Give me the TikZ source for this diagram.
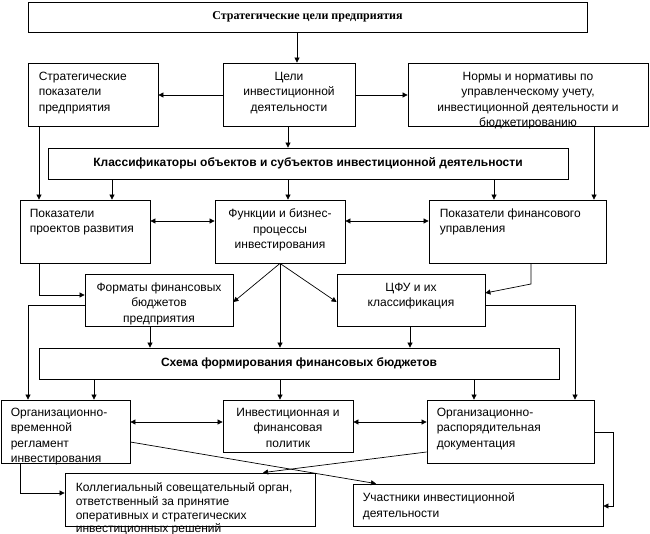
\documentclass[tikz,border=0pt]{standalone}
\usepackage{fontspec}
\setmainfont{Liberation Sans}
\newfontfamily\titleserif{Liberation Serif}
\usetikzlibrary{arrows.meta,calc}
\tikzset{
  box/.style={draw, line width=0.8pt, inner sep=0pt, rectangle},
  txt/.style={inner sep=0pt, font=\fontsize{12}{15.5}\selectfont},
  txtc/.style={txt, align=center, anchor=north},
  txtl/.style={txt, align=left, anchor=north west},
  ttl/.style={inner sep=0pt, font=\fontsize{12}{15}\selectfont\bfseries},
  conn/.style={line width=0.7pt},
  arr/.style={conn, -{Triangle[length=5pt,width=5pt]}},
  darr/.style={conn, {Triangle[length=5pt,width=5pt]}-{Triangle[length=5pt,width=5pt]}}
}
\newcommand\bx[5]{\node[box, minimum width={#4-#2}, minimum height={#5-#3}] (#1) at ({(#2+#4)/2},{(#3+#5)/2}) {};}
\begin{document}
\begin{tikzpicture}[x=1pt,y=-1pt]
\useasboundingbox (0,0) rectangle (650,534);
% boxes
\bx{top}{28}{2}{587}{32}
\bx{sp}{28}{63}{158}{126}
\bx{cel}{223}{63}{355}{126}
\bx{norm}{408}{63}{648}{126}
\bx{klass}{48}{148}{568}{179}
\bx{ppr}{20}{200}{150}{263}
\bx{fun}{215}{200}{345}{263}
\bx{pfu}{429}{200}{606}{263}
\bx{fmt}{85}{274}{233}{326}
\bx{cfu}{337}{274}{485}{326}
\bx{sch}{39}{348}{559}{379}
\bx{ovr}{1}{400}{130}{463}
\bx{inv}{223}{400}{353}{452}
\bx{ord}{427}{400}{594}{463}
\bx{kol}{65}{473}{315}{526}
\bx{uch}{353}{484}{603}{526}
% texts
\node[ttl, font=\fontsize{12}{15}\selectfont\titleserif\bfseries] (top-t) at (top.center) {Стратегические цели предприятия};
\node[txtl] (sp-t) at ($(sp.north west)+(11,9)$) {Стратегические\\показатели\\предприятия};
\node[txtc] (cel-t) at ($(cel.north)+(0,9)$) {Цели\\инвестиционной\\деятельности};
\node[txtc] (norm-t) at ($(norm.north)+(0,9)$) {Нормы и нормативы по\\управленческому учету,\\инвестиционной деятельности и\\бюджетированию};
\node[ttl] (klass-t) at (klass.center) {Классификаторы объектов и субъектов инвестиционной деятельности};
\node[txtl] (ppr-t) at ($(ppr.north west)+(10,9)$) {Показатели\\проектов развития};
\node[txtc] (fun-t) at ($(fun.north)+(0,9)$) {Функции и бизнес-\\процессы\\инвестирования};
\node[txtl] (pfu-t) at ($(pfu.north west)+(11,9)$) {Показатели финансового\\управления};
\node[txtc] (fmt-t) at ($(fmt.north)+(0,9)$) {Форматы финансовых\\бюджетов\\предприятия};
\node[txtc] (cfu-t) at ($(cfu.north)+(0,9)$) {ЦФУ и их\\классификация};
\node[ttl] (sch-t) at (sch.center) {Схема формирования финансовых бюджетов};
\node[txtl] (ovr-t) at ($(ovr.north west)+(10,8)$) {Организационно-\\временной\\регламент\\инвестирования};
\node[txtc] (inv-t) at ($(inv.north)+(0,8)$) {Инвестиционная и\\финансовая\\политик};
\node[txtl] (ord-t) at ($(ord.north west)+(10,8)$) {Организационно-\\распорядительная\\документация};
\node[txtl, font=\fontsize{12}{13.7}\selectfont] (kol-t) at ($(kol.north west)+(11,10)$) {Коллегиальный совещательный орган,\\ответственный за принятие\\оперативных и стратегических\\инвестиционных решений};
\node[txtl] (uch-t) at ($(uch.north west)+(10,9)$) {Участники инвестиционной\\деятельности};
% connectors
\draw[arr] (top.south -| 297,0) -- (cel.north -| 297,0);
\draw[arr] (cel.west |- 0,95) -- (sp.east |- 0,95);
\draw[arr] (cel.east |- 0,95) -- (norm.west |- 0,95);
\draw[arr] (sp.south -| 39,0) -- (ppr.north -| 39,0);
\draw[arr] (cel.south -| 288,0) -- (klass.north -| 288,0);
\draw[arr] (norm.south -| 594,0) -- (pfu.north -| 594,0);
\draw[arr] (klass.south -| 112,0) -- (ppr.north -| 112,0);
\draw[arr] (klass.south -| 288,0) -- (fun.north -| 288,0);
\draw[arr] (klass.south -| 494,0) -- (pfu.north -| 494,0);
\draw[darr] (ppr.east |- 0,221) -- (fun.west |- 0,221);
\draw[darr] (fun.east |- 0,221) -- (pfu.west |- 0,221);
\draw[arr] (ppr.south -| 39,0) |- (fmt.west |- 0,295);
\coordinate (fs) at (fun.south -| 280,0);
\draw[arr] (fs) -- (fmt.east |- 0,302);
\draw[arr] (fs) -- (sch.north -| 280,0);
\draw[arr] (fs) -- (cfu.west |- 0,302);
\coordinate (pb) at (531,284);
\draw[arr] (pfu.south -| pb) -- (pb) -- (cfu.east |- 0,293);
\draw[arr] (fmt.south -| 150,0) -- (sch.north -| 150,0);
\draw[arr] (cfu.south -| 410,0) -- (sch.north -| 410,0);
\draw[arr] (fmt.west |- 0,305) -| (ovr.north -| 28,0);
\draw[arr] (cfu.east |- 0,305) -| (ord.north -| 575,0);
\draw[arr] (sch.south -| 94,0) -- (ovr.north -| 94,0);
\draw[arr] (sch.south -| 280,0) -- (inv.north -| 280,0);
\draw[arr] (sch.south -| 474,0) -- (ord.north -| 474,0);
\draw[darr] (ovr.east |- 0,422) -- (inv.west |- 0,422);
\draw[darr] (inv.east |- 0,422) -- (ord.west |- 0,422);
\draw[arr] (ovr.east |- 0,442) -- (uch.north -| 376,0);
\draw[arr] (ord.west |- 0,452) -- (kol.north -| 263,0);
\draw[arr] (ovr.south -| 20,0) |- (kol.west |- 0,493);
\coordinate (ob) at (613,432);
\draw[arr] (ord.east |- ob) -- (ob) |- (uch.east |- 0,506);
\end{tikzpicture}
\end{document}
